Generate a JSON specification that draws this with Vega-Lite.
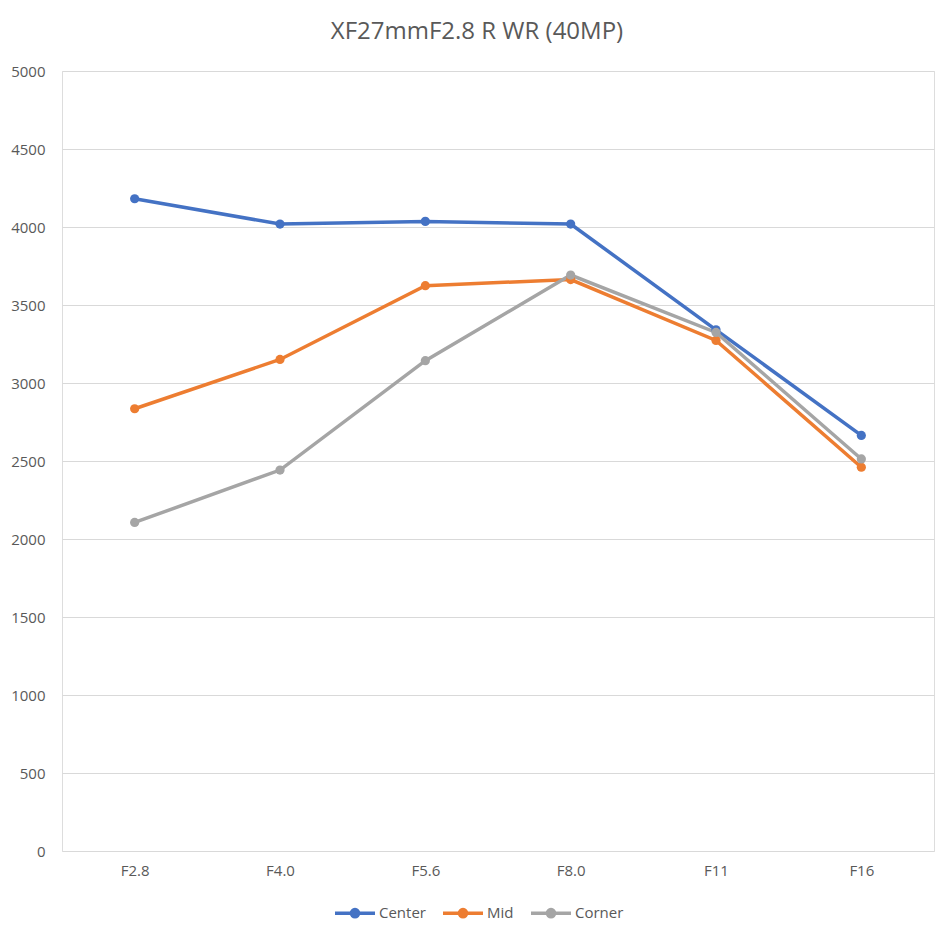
{
  "$schema": "https://vega.github.io/schema/vega-lite/v6.json",
  "width": 872,
  "height": 780,
  "autosize": {"type": "none"},
  "padding": {"left": 62, "top": 71, "right": 12, "bottom": 80},
  "background": "white",
  "title": {
    "text": "XF27mmF2.8 R WR (40MP)",
    "fontSize": 24,
    "font": "Open Sans",
    "fontWeight": "normal",
    "color": "#595959",
    "anchor": "middle",
    "dx": -21,
    "offset": 20
  },
  "data": {
    "values": [
      {"aperture": "F2.8", "zone": "Center", "value": 4181},
      {"aperture": "F4.0", "zone": "Center", "value": 4019},
      {"aperture": "F5.6", "zone": "Center", "value": 4036},
      {"aperture": "F8.0", "zone": "Center", "value": 4019},
      {"aperture": "F11", "zone": "Center", "value": 3341},
      {"aperture": "F16", "zone": "Center", "value": 2664},
      {"aperture": "F2.8", "zone": "Mid", "value": 2835},
      {"aperture": "F4.0", "zone": "Mid", "value": 3151},
      {"aperture": "F5.6", "zone": "Mid", "value": 3624},
      {"aperture": "F8.0", "zone": "Mid", "value": 3663},
      {"aperture": "F11", "zone": "Mid", "value": 3273},
      {"aperture": "F16", "zone": "Mid", "value": 2460},
      {"aperture": "F2.8", "zone": "Corner", "value": 2106},
      {"aperture": "F4.0", "zone": "Corner", "value": 2442},
      {"aperture": "F5.6", "zone": "Corner", "value": 3143},
      {"aperture": "F8.0", "zone": "Corner", "value": 3692},
      {"aperture": "F11", "zone": "Corner", "value": 3324},
      {"aperture": "F16", "zone": "Corner", "value": 2513}
    ]
  },
  "mark": {
    "type": "line",
    "strokeWidth": 3.5,
    "point": {"filled": true, "size": 85, "opacity": 1}
  },
  "encoding": {
    "x": {
      "field": "aperture",
      "type": "ordinal",
      "sort": ["F2.8", "F4.0", "F5.6", "F8.0", "F11", "F16"],
      "scale": {"type": "point", "padding": 0.5},
      "axis": {
        "title": null,
        "domain": false,
        "ticks": false,
        "labelAngle": 0,
        "labelPadding": 12,
        "labelFont": "Open Sans",
        "labelFontSize": 15,
        "labelColor": "#595959"
      }
    },
    "y": {
      "field": "value",
      "type": "quantitative",
      "scale": {"domain": [0, 5000], "nice": false},
      "axis": {
        "title": null,
        "format": "d",
        "values": [0, 500, 1000, 1500, 2000, 2500, 3000, 3500, 4000, 4500, 5000],
        "domain": false,
        "ticks": false,
        "grid": true,
        "gridColor": "#d9d9d9",
        "gridWidth": 1.2,
        "labelPadding": 17,
        "labelFont": "Open Sans",
        "labelFontSize": 15,
        "labelColor": "#595959"
      }
    },
    "color": {
      "field": "zone",
      "type": "nominal",
      "scale": {"domain": ["Center", "Mid", "Corner"], "range": ["#4472C4", "#ED7D31", "#A5A5A5"]},
      "legend": {
        "title": null,
        "orient": "none",
        "direction": "horizontal",
        "legendX": 271,
        "legendY": 820,
        "symbolType": "M-1,0H1M0.18,0A0.18,0.18,0,1,1,-0.18,0A0.18,0.18,0,1,1,0.18,0M0.08,0A0.08,0.08,0,1,1,-0.08,0A0.08,0.08,0,1,1,0.08,0",
        "symbolSize": 1600,
        "symbolStrokeWidth": 3.5,
        "labelFont": "Open Sans",
        "labelFontSize": 15,
        "labelColor": "#595959",
        "labelOffset": 2,
        "columnPadding": 10
      }
    }
  }
}
